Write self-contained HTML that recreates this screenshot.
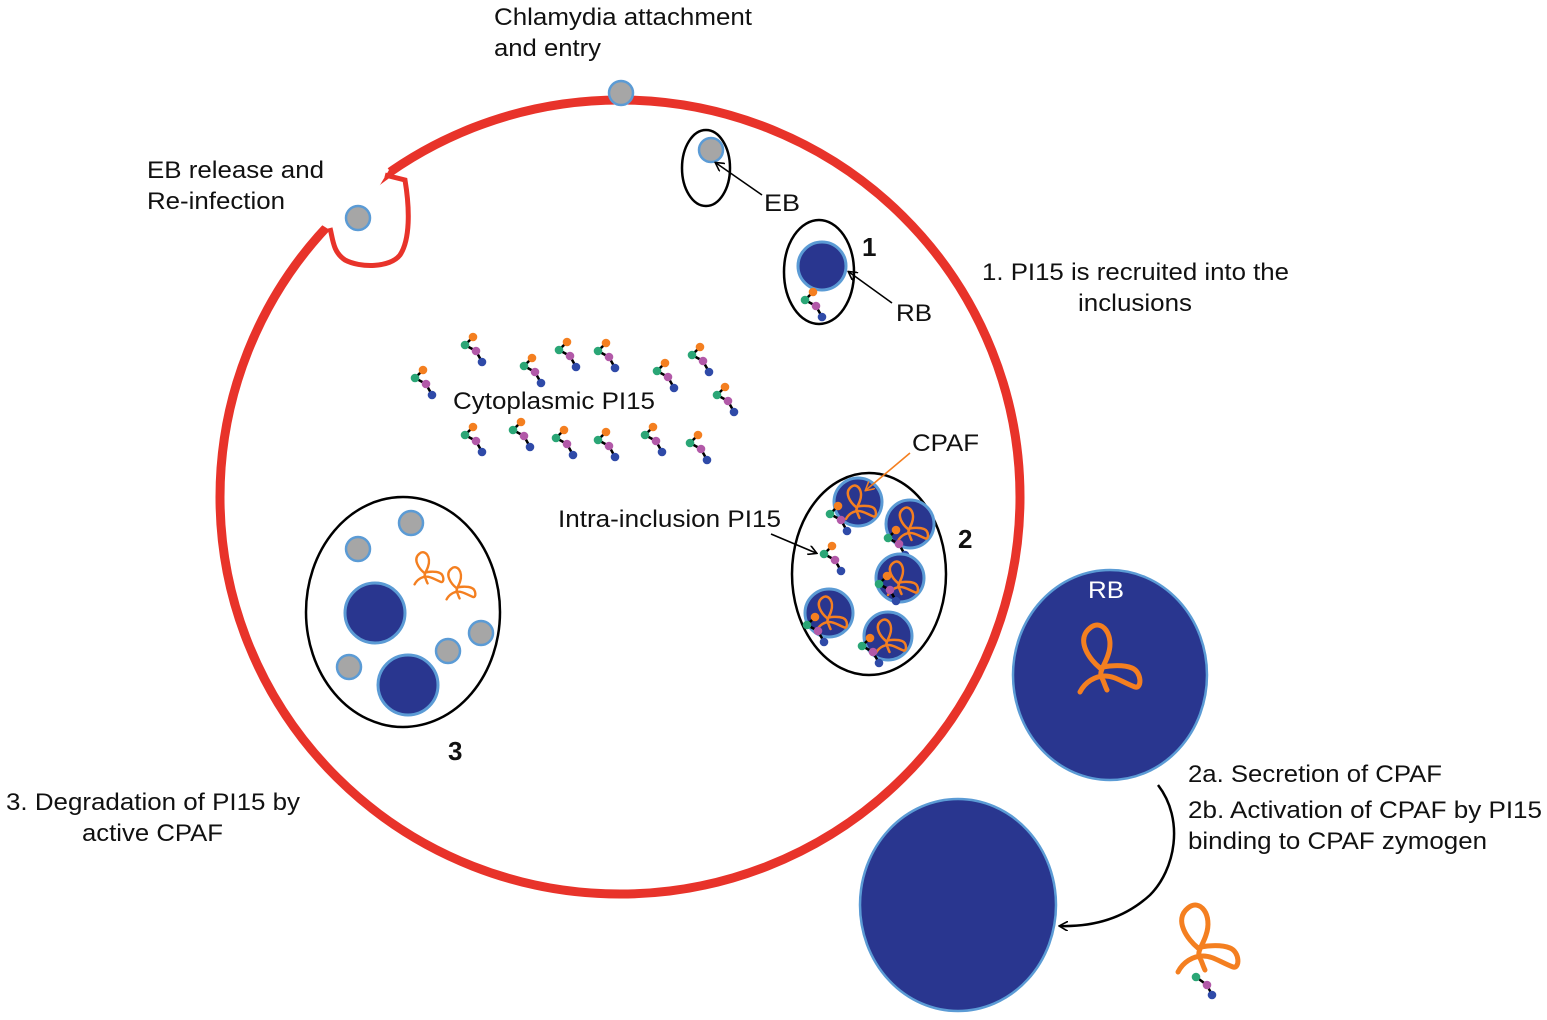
<!DOCTYPE html>
<html><head><meta charset="utf-8"><style>
html,body{margin:0;padding:0;background:#fff;}
svg{display:block;}
text{font-family:"Liberation Sans",Arial,sans-serif;font-size:24px;fill:#111;}
</style></head><body>
<svg width="1547" height="1020" viewBox="0 0 1547 1020" xmlns="http://www.w3.org/2000/svg">
<defs>
<g id="m">
<line x1="0" y1="0" x2="-8" y2="8" stroke="#000" stroke-width="2.5"/>
<line x1="-8" y1="8" x2="3" y2="14" stroke="#000" stroke-width="2.5"/>
<line x1="3" y1="14" x2="9" y2="25" stroke="#000" stroke-width="2.5"/>
<circle cx="0" cy="0" r="4.3" fill="#f47f20"/>
<circle cx="-8" cy="8" r="4.3" fill="#2aa676"/>
<circle cx="3" cy="14" r="4.3" fill="#b259a8"/>
<circle cx="9" cy="25" r="4.3" fill="#2f4aa8"/>
</g>
<path id="loop" d="M20,82 C25,72 35,66 45,66 C55,66 62,72 75,77 C82,79 82,62 72,58 C62,54 45,56 40,58 C30,50 15,30 30,18 C42,8 55,25 48,45 C45,55 38,62 42,68 C44,72 45,76 47,80" fill="none" stroke="#f47f20" stroke-width="5" stroke-linecap="round"/>
<g id="eb"><circle r="12" fill="#a6a6a6" stroke="#5b9bd5" stroke-width="2.5"/></g>
<marker id="ah" markerWidth="10" markerHeight="10" refX="8" refY="5" orient="auto" markerUnits="userSpaceOnUse"><path d="M0,0 L9,5 L0,10" fill="none" stroke="#000" stroke-width="1.6"/></marker>
<marker id="aho" markerWidth="10" markerHeight="10" refX="8" refY="5" orient="auto" markerUnits="userSpaceOnUse"><path d="M0,0 L9,5 L0,10" fill="none" stroke="#f47f20" stroke-width="1.6"/></marker>
<mask id="gap" maskUnits="userSpaceOnUse" x="0" y="0" width="1547" height="1020">
<rect x="0" y="0" width="1547" height="1020" fill="#fff"/>
<polygon points="333,232 298,210 372,148 389,170 366,208" fill="#000"/>
</mask>
</defs>

<!-- cell -->
<ellipse cx="620" cy="497" rx="400" ry="397" fill="none" stroke="#e8332a" stroke-width="9" mask="url(#gap)"/>
<path d="M330,228 C333,240 333,252 345,260 C360,268 390,268 400,255 C410,240 410,210 405,180 L385,175" fill="none" stroke="#e8332a" stroke-width="5"/>
<use href="#eb" x="358" y="218"/>
<use href="#eb" x="621" y="93"/>

<text x="494" y="25" textLength="258" lengthAdjust="spacingAndGlyphs">Chlamydia attachment</text>
<text x="494" y="56" textLength="107" lengthAdjust="spacingAndGlyphs">and entry</text>
<text x="147" y="178" textLength="177" lengthAdjust="spacingAndGlyphs">EB release and</text>
<text x="147" y="209" textLength="138" lengthAdjust="spacingAndGlyphs">Re-infection</text>

<!-- EB inclusion -->
<ellipse cx="706" cy="168" rx="24" ry="38" fill="none" stroke="#000" stroke-width="2.5"/>
<use href="#eb" x="711" y="150"/>
<line x1="762" y1="195" x2="716" y2="163" stroke="#000" stroke-width="1.6" marker-end="url(#ah)"/>
<text x="764" y="211" textLength="36" lengthAdjust="spacingAndGlyphs">EB</text>

<!-- inclusion 1 -->
<ellipse cx="819" cy="272" rx="35" ry="52" fill="none" stroke="#000" stroke-width="2.5"/>
<circle cx="822" cy="266" r="24" fill="#29368f" stroke="#5b9bd5" stroke-width="3"/>
<use href="#m" x="813" y="292"/>
<line x1="892" y1="303" x2="849" y2="272" stroke="#000" stroke-width="1.6" marker-end="url(#ah)"/>
<text x="896" y="321" textLength="36" lengthAdjust="spacingAndGlyphs">RB</text>
<text x="862" y="256" style="font-weight:bold;font-size:26px">1</text>
<text x="982" y="280" textLength="307" lengthAdjust="spacingAndGlyphs">1. PI15 is recruited into the</text>
<text x="1078" y="311" textLength="114" lengthAdjust="spacingAndGlyphs">inclusions</text>

<!-- cytoplasmic -->
<use href="#m" x="423" y="370"/><use href="#m" x="473" y="337"/><use href="#m" x="532" y="358"/>
<use href="#m" x="567" y="342"/><use href="#m" x="606" y="343"/><use href="#m" x="665" y="363"/>
<use href="#m" x="700" y="347"/><use href="#m" x="725" y="387"/>
<use href="#m" x="473" y="427"/><use href="#m" x="521" y="422"/><use href="#m" x="564" y="430"/>
<use href="#m" x="606" y="432"/><use href="#m" x="653" y="427"/><use href="#m" x="698" y="435"/>
<text x="453" y="409" textLength="202" lengthAdjust="spacingAndGlyphs">Cytoplasmic PI15</text>

<!-- inclusion 2 -->
<ellipse cx="869" cy="574" rx="77" ry="101" fill="none" stroke="#000" stroke-width="2.5"/>
<g>
<circle cx="858" cy="502" r="24" fill="#29368f" stroke="#5b9bd5" stroke-width="3"/>
<use href="#loop" transform="translate(836,478) scale(0.5)"/><use href="#m" x="838" y="506"/>
<circle cx="910" cy="524" r="24" fill="#29368f" stroke="#5b9bd5" stroke-width="3"/>
<use href="#loop" transform="translate(888,500) scale(0.5)"/><use href="#m" x="896" y="530"/>
<circle cx="900" cy="578" r="24" fill="#29368f" stroke="#5b9bd5" stroke-width="3"/>
<use href="#loop" transform="translate(878,554) scale(0.5)"/><use href="#m" x="887" y="576"/>
<circle cx="829" cy="613" r="24" fill="#29368f" stroke="#5b9bd5" stroke-width="3"/>
<use href="#loop" transform="translate(807,589) scale(0.5)"/><use href="#m" x="815" y="617"/>
<circle cx="888" cy="636" r="24" fill="#29368f" stroke="#5b9bd5" stroke-width="3"/>
<use href="#loop" transform="translate(866,612) scale(0.5)"/><use href="#m" x="870" y="638"/>
</g>
<use href="#m" x="832" y="546"/>
<line x1="771" y1="534" x2="816" y2="553" stroke="#000" stroke-width="1.6" marker-end="url(#ah)"/>
<line x1="910" y1="453" x2="866" y2="490" stroke="#f47f20" stroke-width="1.6" marker-end="url(#aho)"/>
<text x="912" y="451" textLength="67" lengthAdjust="spacingAndGlyphs">CPAF</text>
<text x="558" y="527" textLength="223" lengthAdjust="spacingAndGlyphs">Intra-inclusion PI15</text>
<text x="958" y="548" style="font-weight:bold;font-size:26px">2</text>

<!-- inclusion 3 -->
<ellipse cx="403" cy="612" rx="97" ry="115" fill="none" stroke="#000" stroke-width="2.5"/>
<circle cx="375" cy="613" r="30" fill="#29368f" stroke="#5b9bd5" stroke-width="3"/>
<circle cx="408" cy="685" r="30" fill="#29368f" stroke="#5b9bd5" stroke-width="3"/>
<use href="#eb" x="411" y="523"/><use href="#eb" x="358" y="549"/><use href="#eb" x="481" y="633"/>
<use href="#eb" x="448" y="651"/><use href="#eb" x="349" y="667"/>
<use href="#loop" transform="translate(405,545) scale(0.48)"/>
<use href="#loop" transform="translate(437,560) scale(0.48)"/>
<text x="448" y="760" style="font-weight:bold;font-size:26px">3</text>
<text x="6" y="810" textLength="294" lengthAdjust="spacingAndGlyphs">3. Degradation of PI15 by</text>
<text x="82" y="841" textLength="141" lengthAdjust="spacingAndGlyphs">active CPAF</text>

<!-- right side -->
<ellipse cx="1110" cy="675" rx="97" ry="105" fill="#29368f" stroke="#5b9bd5" stroke-width="2.5"/>
<text x="1088" y="598" style="fill:#fff" textLength="36" lengthAdjust="spacingAndGlyphs">RB</text>
<use href="#loop" transform="translate(1060,610)"/>
<ellipse cx="958" cy="905" rx="98" ry="106" fill="#29368f" stroke="#5b9bd5" stroke-width="2.5"/>
<path d="M1158,785 C1185,820 1175,870 1150,895 C1125,918 1095,927 1060,926" fill="none" stroke="#000" stroke-width="2.5" marker-end="url(#ah)"/>
<text x="1188" y="782" textLength="254" lengthAdjust="spacingAndGlyphs">2a. Secretion of CPAF</text>
<text x="1188" y="818" textLength="354" lengthAdjust="spacingAndGlyphs">2b. Activation of CPAF by PI15</text>
<text x="1188" y="849" textLength="299" lengthAdjust="spacingAndGlyphs">binding to CPAF zymogen</text>
<use href="#loop" transform="translate(1158,890)"/>
<line x1="1196" y1="977" x2="1207" y2="985" stroke="#000" stroke-width="2.5"/>
<line x1="1207" y1="985" x2="1212" y2="995" stroke="#000" stroke-width="2.5"/>
<circle cx="1196" cy="977" r="4.3" fill="#2aa676"/>
<circle cx="1207" cy="985" r="4.3" fill="#b259a8"/>
<circle cx="1212" cy="995" r="4.3" fill="#2f4aa8"/>
</svg>
</body></html>
